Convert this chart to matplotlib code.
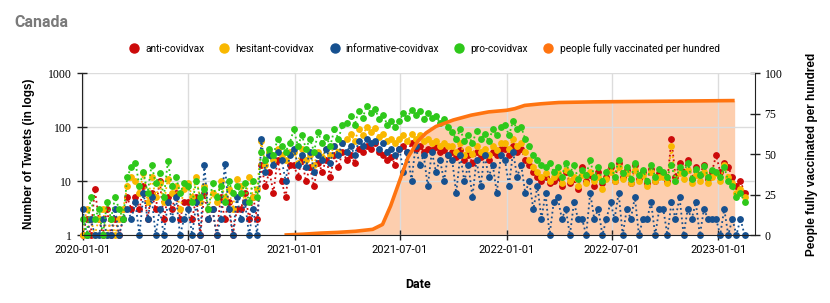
import numpy as np
import pandas as pd
import matplotlib
matplotlib.use("Agg")
import matplotlib.pyplot as plt
import matplotlib.dates as mdates
from matplotlib.lines import Line2D

# weekly tweet counts (starting 2020-01-01)
anti = [1, 2, 1, 7, 2, 1, 3, 1, 2, 1, 2, 5, 3,
        5, 3, 8, 2, 6, 3, 10, 2, 5, 3, 6, 2, 4,
        4, 2, 5, 1, 6, 2, 3, 1, 5, 2, 4, 1, 3,
        3, 6, 2, 5, 2, 20, 8, 15, 6, 25, 10, 5, 20,
        20, 12, 25, 10, 18, 8, 22, 15, 25, 12, 30, 18, 35,
        25, 30, 22, 40, 35, 45, 40, 50, 35, 30, 25, 28, 20,
        40, 45, 35, 50, 40, 45, 35, 40, 38, 42, 35, 38, 30,
        35, 28, 38, 25, 30, 22, 35, 28, 32, 25, 35, 30, 40,
        40, 30, 45, 35, 40, 25, 20, 15, 12, 10, 12, 9, 10,
        12, 8, 15, 9, 11, 7, 18, 10, 13, 8, 15, 9, 12,
        18, 10, 22, 12, 16, 9, 20, 11, 15, 9, 17, 10, 14,
        14, 10, 60, 12, 22, 15, 25, 11, 18, 13, 20, 11, 15,
        30, 15, 22, 18, 12, 8, 10, 6]
hesitant = [1, 3, 2, 1, 2, 3, 1, 2, 1, 2, 3, 8, 12,
            10, 6, 14, 4, 12, 5, 9, 4, 11, 6, 8, 3, 7,
            9, 5, 12, 4, 8, 3, 6, 4, 10, 5, 7, 3, 11,
            8, 4, 12, 5, 7, 55, 20, 35, 25, 40, 30, 25, 35,
            35, 22, 40, 25, 30, 20, 35, 28, 40, 30, 45, 35, 50,
            60, 75, 55, 90, 70, 100, 80, 95, 65, 75, 55, 60, 50,
            60, 70, 55, 75, 60, 70, 55, 60, 50, 55, 45, 50, 45,
            45, 35, 50, 30, 40, 32, 45, 35, 40, 30, 45, 38, 50,
            50, 40, 60, 45, 50, 35, 25, 18, 15, 12, 14, 10, 12,
            14, 9, 16, 10, 12, 8, 13, 9, 15, 10, 12, 7, 11,
            15, 10, 18, 11, 14, 9, 16, 10, 13, 8, 15, 10, 12,
            12, 9, 45, 10, 14, 11, 16, 9, 13, 10, 15, 9, 12,
            14, 10, 20, 12, 9, 6, 7, 5]
informative = [3, 1, 2, 1, 1, 2, 1, 1, 3, 1, 2, 3, 2,
               4, 1, 6, 2, 5, 1, 3, 1, 4, 2, 5, 1, 2,
               3, 1, 4, 1, 20, 2, 3, 1, 2, 21, 3, 1, 5,
               2, 4, 1, 3, 1, 60, 15, 30, 20, 35, 25, 10, 30,
               40, 20, 30, 18, 35, 15, 30, 25, 40, 22, 45, 30, 50,
               35, 45, 30, 55, 45, 60, 50, 55, 40, 50, 35, 40, 30,
               40, 15, 35, 10, 45, 20, 30, 8, 35, 15, 25, 10, 30,
               25, 6, 30, 10, 20, 5, 25, 8, 30, 12, 20, 6, 30,
               25, 8, 35, 12, 20, 6, 10, 3, 8, 2, 6, 1, 4,
               5, 2, 3, 1, 4, 2, 2, 1, 6, 2, 3, 1, 2,
               4, 2, 6, 1, 3, 2, 5, 1, 2, 2, 4, 1, 3,
               3, 1, 4, 2, 5, 1, 3, 2, 4, 1, 3, 2, 2,
               2, 1, 3, 1, 2, 1, 2, 1]
pro = [2, 1, 5, 2, 3, 1, 4, 2, 5, 3, 2, 12, 18,
       22, 8, 15, 6, 20, 9, 14, 5, 23, 8, 12, 6, 9,
       8, 4, 10, 5, 7, 3, 9, 5, 8, 4, 10, 6, 8,
       6, 9, 4, 10, 5, 35, 25, 40, 30, 60, 45, 35, 50,
       90, 45, 70, 40, 60, 35, 80, 50, 65, 45, 90, 60, 110,
       120, 160, 110, 200, 150, 250, 180, 220, 140, 170, 110, 130, 100,
       130, 180, 150, 210, 170, 200, 140, 180, 150, 160, 120, 140, 100,
       80, 60, 90, 55, 70, 50, 85, 60, 75, 55, 90, 70, 100,
       110, 70, 130, 90, 100, 60, 45, 30, 25, 20, 18, 22, 15,
       18, 12, 22, 14, 20, 11, 16, 13, 24, 12, 18, 10, 15,
       20, 12, 25, 14, 18, 11, 22, 13, 16, 10, 20, 12, 17,
       15, 12, 20, 10, 18, 14, 22, 11, 17, 13, 19, 12, 16,
       15, 12, 18, 10, 8, 5, 6, 4]

vax_dates = ['2020-12-14', '2021-01-15', '2021-02-15', '2021-03-15', '2021-04-15',
             '2021-05-15', '2021-06-01', '2021-06-15', '2021-07-01', '2021-07-15',
             '2021-08-01', '2021-08-15', '2021-09-01', '2021-10-01', '2021-11-01',
             '2021-12-01', '2022-01-01', '2022-01-15', '2022-02-01', '2022-03-01',
             '2022-04-01', '2022-06-01', '2022-09-01', '2022-12-01', '2023-01-29']
vax_vals = [0, 0.5, 1.2, 1.6, 2.3, 3.5, 6.5, 18, 34, 48,
            58, 63, 67, 71, 74, 76, 77, 78, 80, 81,
            81.8, 82.2, 82.5, 82.8, 83.0]

series = [("anti-covidvax", anti, "#cc0a0a"),
          ("hesitant-covidvax", hesitant, "#f9b800"),
          ("informative-covidvax", informative, "#16508f"),
          ("pro-covidvax", pro, "#2ec81a")]
vax_color = "#ff7410"

dates = pd.date_range("2020-01-01", periods=len(anti), freq="7D")
vdates = pd.to_datetime(vax_dates)

fig = plt.figure(figsize=(8.3, 3.03), dpi=100)
ax = fig.add_axes([0.0988, 0.2244, 0.8108, 0.5346])
ax2 = ax.twinx()

# vaccination fill behind the tweets
ax2.fill_between(vdates, vax_vals, 0, color="#fdceae", lw=0)
ax2.set_ylim(0, 100)
ax.set_zorder(ax2.get_zorder() + 1)
ax.patch.set_visible(False)

for name, vals, col in series:
    ax.plot(dates, vals, ls=":", lw=1.3, color=col, marker="o", ms=3.9,
            mec=col, mfc=col, clip_on=False)

# orange line drawn over the dots
ax.plot(vdates, vax_vals, color=vax_color, lw=2.6, transform=ax2.transData,
        solid_capstyle="butt")

ax.set_yscale("log")
ax.set_ylim(1, 1000)
ax.set_yticks([1, 10, 100, 1000])
ax.set_yticklabels(["1", "10", "100", "1000"])
ax.yaxis.set_minor_locator(matplotlib.ticker.NullLocator())
ax.set_xlim(pd.Timestamp("2019-12-31"), pd.Timestamp("2023-03-05"))
xt = pd.to_datetime(["2020-01-01", "2020-07-01", "2021-01-01", "2021-07-01",
                     "2022-01-01", "2022-07-01", "2023-01-01"])
ax.set_xticks(xt)
ax.xaxis.set_major_formatter(mdates.DateFormatter("%Y-%m-%d"))
ax.grid(True, color="#dcdcdc", lw=1)
ax.set_axisbelow(True)

ax2.set_yticks([0, 25, 50, 75, 100])

for a in (ax, ax2):
    a.spines["top"].set_visible(False)
    a.tick_params(direction="inout", length=7, width=1, color="#222222")
ax2.spines["left"].set_visible(False)
ax2.spines["bottom"].set_visible(False)
ax.spines["right"].set_visible(False)
for s in ("left", "bottom"):
    ax.spines[s].set_color("#222222")
ax2.spines["right"].set_color("#222222")

for lab in ax.get_xticklabels():
    lab.set_fontfamily("Roboto")
    lab.set_fontsize(8)
for lab in ax.get_yticklabels() + ax2.get_yticklabels():
    lab.set_fontfamily("Liberation Serif")
    lab.set_fontsize(8.5)

ax.set_xlabel("Date", fontfamily="Roboto", fontweight="bold", fontsize=9, labelpad=17)
ax.set_ylabel("Number of Tweets (in logs)", fontfamily="Liberation Sans",
              fontweight="bold", fontsize=8.5, labelpad=10)
ax2.set_ylabel("People fully vaccinated per hundred", fontfamily="Liberation Sans",
               fontweight="bold", fontsize=8.5, labelpad=17)

fig.text(0.017, 0.925, "Canada", fontfamily="Roboto", fontweight="bold",
         fontsize=11.5, color="#7a7a7a", va="center")

handles = [Line2D([], [], ls="none", marker="o", ms=6.5, color=c) for _, _, c in series]
handles.append(Line2D([], [], ls="none", marker="o", ms=6.5, color=vax_color))
labels = [n for n, _, _ in series] + ["people fully vaccinated per hundred"]
fig.legend(handles, labels, loc="center", bbox_to_anchor=(0.508, 0.84), ncol=5,
           frameon=False, handletextpad=0.1, columnspacing=1.0,
           prop={"family": "Roboto", "size": 7.3})

fig.savefig("out.png", dpi=100)
